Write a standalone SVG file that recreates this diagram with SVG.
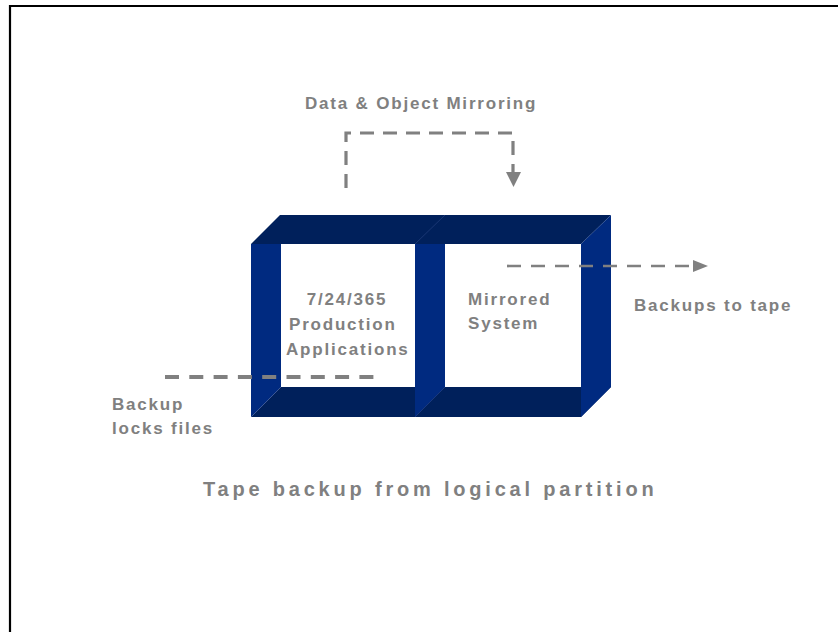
<svg xmlns="http://www.w3.org/2000/svg" width="838" height="632" viewBox="0 0 838 632">
<style>
.lbl{font-family:"Liberation Sans",Arial,sans-serif;font-weight:bold;font-size:17px;letter-spacing:1.8px;fill:#808080}
.title{font-family:"Liberation Sans",Arial,sans-serif;font-weight:bold;font-size:20px;letter-spacing:3.8px;fill:#808080}
.dark{fill:#00205b}
.light{fill:#002a80}
.edge{stroke:#3b5596;stroke-width:0.6;fill:none;opacity:0.7}
.dash{fill:none;stroke:#808080}
</style>
<rect width="838" height="632" fill="#ffffff"/>
<path d="M10,640 V6 H845" fill="none" stroke="#000000" stroke-width="2.2"/>
<g id="box">
  <polygon class="dark" points="251,244 280,215 611,215 581,244"/>
  <polygon class="dark" points="251,417 281,387 611,387 581,417"/>
  <polygon class="light" points="251,244 281,244 281,387 251,417"/>
  <polygon class="light" points="415,244 445,244 445,387 415,417"/>
  <polygon class="light" points="581,244 611,215 611,387 581,417"/>
  <line class="edge" x1="415" y1="244" x2="445" y2="215"/>
  <line class="edge" x1="251" y1="417" x2="281" y2="387"/>
  <line class="edge" x1="415" y1="417" x2="445" y2="387"/>
</g>
<g id="node-production">
  <text class="lbl" x="347" y="305" text-anchor="middle">7/24/365</text>
  <text class="lbl" x="289" y="330">Production</text>
  <text class="lbl" x="286" y="355">Applications</text>
</g>
<g id="node-mirrored">
  <text class="lbl" x="468" y="305">Mirrored</text>
  <text class="lbl" x="468" y="329">System</text>
</g>
<g id="connectors">
  <path class="dash" d="M346,188 V133 H513 V172" stroke-width="3.2" stroke-dasharray="14 9"/>
  <polygon points="506,172 521,172 513.5,187" fill="#808080"/>
  <line class="dash" x1="165" y1="377" x2="374" y2="377" stroke-width="4" stroke-dasharray="14 10.3"/>
  <line class="dash" x1="507" y1="266" x2="693" y2="266" stroke-width="2.7" stroke-dasharray="14 10"/>
  <polygon points="693,260 708,266 693,272" fill="#808080"/>
</g>
<g id="labels">
  <text class="lbl" x="305" y="109">Data &amp; Object Mirroring</text>
  <text class="lbl" x="634" y="311">Backups to tape</text>
  <text class="lbl" x="112" y="410">Backup</text>
  <text class="lbl" x="112" y="434">locks files</text>
  <text class="title" x="203" y="496">Tape backup from logical partition</text>
</g>
</svg>
